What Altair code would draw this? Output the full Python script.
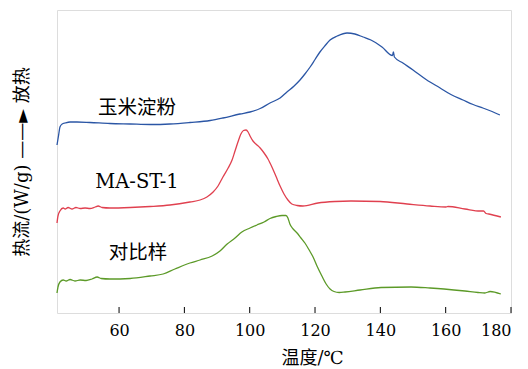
import altair as alt
import pandas as pd

# DSC heat-flow traces (temperature in °C, heat flow in arbitrary offset units)
corn_t = [41.0, 41.5, 41.9, 42.6, 43.5, 45.0, 47.1, 51.1, 57.2, 63.4, 69.5, 75.6, 81.7, 87.9,
          91.8, 97.0, 100.1, 103.2, 106.2, 109.3, 111.4, 113.6, 115.4, 116.9, 118.5, 120.0,
          121.5, 123.1, 124.6, 126.8, 129.8, 132.2, 134.7, 137.1, 140.5, 143.7, 144.0, 144.3,
          146.9, 150.0, 154.0, 158.3, 161.6, 165.3, 168.4, 171.4, 174.2, 176.6]
corn_hf = [1.68, 1.78, 1.86, 1.89, 1.90, 1.91, 1.91, 1.905, 1.895, 1.89, 1.885, 1.89, 1.905, 1.925,
           1.95, 1.99, 2.01, 2.045, 2.10, 2.15, 2.21, 2.27, 2.33, 2.39, 2.46, 2.535,
           2.61, 2.675, 2.73, 2.77, 2.80, 2.79, 2.76, 2.73, 2.66, 2.575, 2.61, 2.56,
           2.50, 2.43, 2.335, 2.25, 2.185, 2.13, 2.085, 2.05, 2.015, 1.98]

mast_t = [41.0, 41.3, 41.9, 42.9, 43.5, 44.4, 45.6, 46.8, 48.1, 49.6, 51.1, 52.7, 53.6, 54.8,
          57.2, 63.4, 69.5, 75.6, 81.7, 84.8, 86.9, 88.8, 90.3, 91.8, 93.4, 94.6, 95.5, 96.4,
          97.3, 98.1, 98.9, 99.5, 100.1, 101.0, 101.9, 103.2, 104.4, 105.6, 106.8, 108.0,
          109.3, 110.5, 111.7, 112.9, 114.5, 116.3, 120.9, 126.1, 131.0, 139.9, 148.2, 155.2,
          160.1, 160.7, 165.9, 170.5, 171.6, 172.4, 173.2, 176.9]
mast_hf = [0.90, 0.97, 1.02, 1.05, 1.04, 1.055, 1.04, 1.055, 1.045, 1.05, 1.045, 1.06, 1.07, 1.055,
           1.05, 1.055, 1.065, 1.08, 1.11, 1.13, 1.16, 1.21, 1.27, 1.36, 1.45, 1.53, 1.62, 1.71,
           1.79, 1.825, 1.83, 1.81, 1.77, 1.72, 1.69, 1.65, 1.60, 1.54, 1.46, 1.37,
           1.27, 1.19, 1.13, 1.09, 1.075, 1.07, 1.10, 1.115, 1.12, 1.115, 1.09, 1.07,
           1.06, 1.065, 1.04, 1.02, 1.02, 0.995, 0.99, 0.96]

ctrl_t = [41.0, 41.3, 41.9, 42.9, 43.8, 45.0, 46.5, 48.1, 49.9, 51.7, 53.3, 54.5, 57.2, 63.4,
          69.5, 73.5, 77.1, 81.7, 84.8, 88.5, 90.9, 93.1, 95.5, 97.6, 100.1, 102.2, 104.4,
          106.2, 108.1, 109.9, 111.1, 111.7, 112.3, 113.3, 114.5, 115.7, 116.9, 118.2, 119.4,
          120.6, 122.1, 123.4, 124.6, 125.8, 127.4, 129.2, 133.8, 140.2, 149.4, 155.2, 159.5,
          165.9, 169.9, 172.0, 173.6, 176.9]
ctrl_hf = [0.20, 0.26, 0.31, 0.33, 0.32, 0.335, 0.32, 0.33, 0.325, 0.34, 0.36, 0.345, 0.34, 0.345,
           0.37, 0.39, 0.44, 0.50, 0.53, 0.57, 0.62, 0.69, 0.75, 0.81, 0.85, 0.88, 0.91,
           0.945, 0.965, 0.975, 0.975, 0.95, 0.89, 0.84, 0.80, 0.75, 0.70, 0.63, 0.56,
           0.47, 0.37, 0.29, 0.24, 0.215, 0.205, 0.21, 0.23, 0.255, 0.26, 0.25, 0.24,
           0.22, 0.205, 0.20, 0.215, 0.19]

series_names = ["玉米淀粉", "MA-ST-1", "对比样"]
series_colors = ["#2b56a5", "#e0404f", "#5c9a28"]

label_x = [65.5, 65.5, 65.8]
label_y = [2.05, 1.31, 0.60]

tick_values = [60, 80, 100, 120, 140, 160, 180]

frames = []
for name, t, hf in zip(series_names, [corn_t, mast_t, ctrl_t], [corn_hf, mast_hf, ctrl_hf]):
    frames.append(pd.DataFrame({"temp": t, "hf": hf, "series": name}))
curves = pd.concat(frames, ignore_index=True)
labels = pd.DataFrame({"temp": label_x, "hf": label_y, "series": series_names})
ticks = pd.DataFrame({"temp": tick_values})

SERIF = "DejaVu Serif"
MIXED = "DejaVu Serif, Noto Sans CJK SC"

x_scale = alt.Scale(domain=[41, 180], nice=False, zero=False)
y_scale = alt.Scale(domain=[0, 3.03], nice=False, zero=False)
color_scale = alt.Scale(domain=series_names, range=series_colors)

lines = alt.Chart(curves).mark_line(strokeWidth=1.3, interpolate="monotone").encode(
    x=alt.X("temp:Q", scale=x_scale,
            axis=alt.Axis(values=tick_values, ticks=False, domain=False, grid=False,
                          labelFont=SERIF, labelFontSize=16, labelColor="black",
                          labelPadding=9, title="温度/℃", titleFont=MIXED,
                          titleFontSize=18, titleFontWeight="normal", titleColor="black",
                          titleAnchor="start", titleAlign="center", titleX=255,
                          titleY=45, titleBaseline="middle")),
    y=alt.Y("hf:Q", scale=y_scale,
            axis=alt.Axis(labels=False, ticks=False, domain=False, grid=False,
                          title="热流/(W/g) ——► 放热", titleFont=MIXED, titleFontSize=18,
                          titleFontWeight="normal", titleColor="black", titleAngle=270,
                          titleAlign="center", titleBaseline="middle",
                          titleX=-35, titleY=151.5)),
    color=alt.Color("series:N", scale=color_scale, legend=None),
    order=alt.Order("temp:Q"),
)

texts = alt.Chart(labels).mark_text(font=MIXED, fontSize=19.5, color="black").encode(
    x=alt.X("temp:Q", scale=x_scale),
    y=alt.Y("hf:Q", scale=y_scale),
    text="series:N",
)

tick_marks = alt.Chart(ticks).mark_rule(color="black", strokeWidth=1).encode(
    x=alt.X("temp:Q", scale=x_scale),
    y=alt.value(303),
    y2=alt.value(297),
)

chart = alt.layer(lines, texts, tick_marks).properties(
    width=454,
    height=303,
    padding={"left": 57, "top": 10, "right": 17, "bottom": 56},
    autosize=alt.AutoSizeParams(type="none"),
).configure_view(stroke="black", strokeWidth=1.5).configure(background="white")

chart.save("out.html", embed_options={"renderer": "svg", "actions": False})
